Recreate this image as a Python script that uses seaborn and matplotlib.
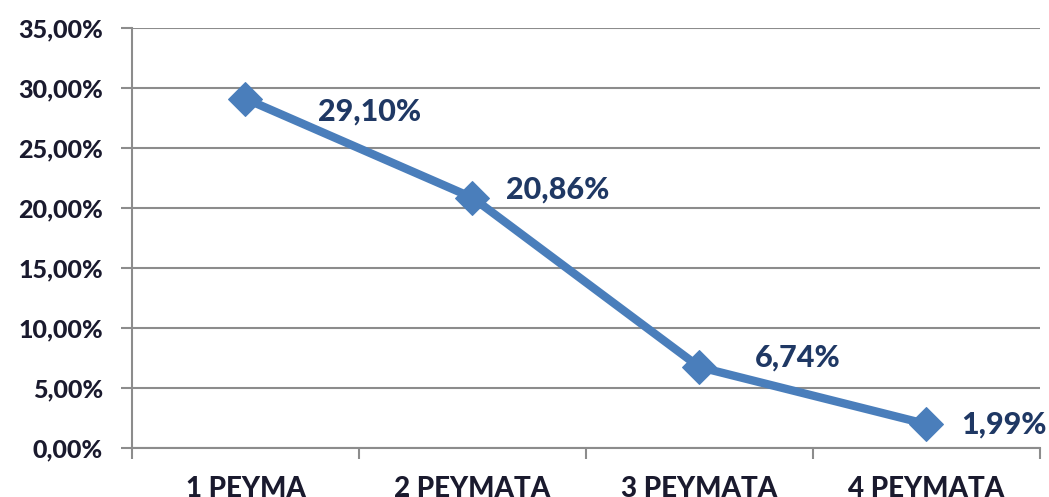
import seaborn as sns
import pandas as pd
import matplotlib.pyplot as plt
from matplotlib.ticker import FixedLocator, FuncFormatter

# values (percent)
categories = ["1 ΡΕΥΜΑ", "2 ΡΕΥΜΑΤΑ", "3 ΡΕΥΜΑΤΑ", "4 ΡΕΥΜΑΤΑ"]
shares = [29.10, 20.86, 6.74, 1.99]
y_ticks = [0, 5, 10, 15, 20, 25, 30, 35]

# label offsets in points (dx, dy), styling only
label_offsets = [(52, -9), (24, 6), (40, 7), (25, 0)]

sns.set_style("white")
plt.rcParams['font.family'] = ['Lato', 'DejaVu Sans']

df = pd.DataFrame({"cat": categories, "share": shares})

fig = plt.figure(figsize=(10.49, 4.97), dpi=100)
ax = fig.add_axes([0.1258, 0.0986, 0.8656, 0.8451])

line_col = "#4A7EBB"
sns.lineplot(data=df, x="cat", y="share", sort=False, color=line_col,
             linewidth=6, marker="D", markersize=17, markeredgecolor=line_col, ax=ax)

# data labels to the right of the points
for i, v in enumerate(shares):
    dx, dy = label_offsets[i]
    ax.annotate(f"{v:.2f}%".replace(".", ","), (i, v), xytext=(dx, dy),
                textcoords="offset points", ha="left", va="center",
                fontsize=22, fontweight=900, color="#1F3864")

ax.set_xlim(-0.5, 3.5)
ax.set_ylim(0, 35)
ax.set_yticks(y_ticks)
ax.yaxis.set_major_formatter(FuncFormatter(lambda v, p: f"{v:.2f}%".replace(".", ",")))
ax.yaxis.grid(True, color="#8c8c8c", linewidth=1.5)
ax.set_axisbelow(True)

# category boundary ticks on the x axis
ax.xaxis.set_minor_locator(FixedLocator([-0.5, 0.5, 1.5, 2.5, 3.5]))
ax.tick_params(axis="x", which="major", length=0, pad=20, labelsize=20, labelcolor="#1a1a2e")
ax.tick_params(axis="x", which="minor", length=8, width=1.5, color="#8c8c8c", bottom=True)
ax.tick_params(axis="y", which="major", length=8, width=1.5, color="#8c8c8c", left=True,
               labelsize=18, labelcolor="#1a1a2e", pad=13)
for lab in ax.get_xticklabels() + ax.get_yticklabels():
    lab.set_fontweight(900)

for s in ["top", "right"]:
    ax.spines[s].set_visible(False)
for s in ["left", "bottom"]:
    ax.spines[s].set_color("#8c8c8c")
    ax.spines[s].set_linewidth(1.5)

ax.set_xlabel("")
ax.set_ylabel("")

fig.savefig("out.png", dpi=100)
